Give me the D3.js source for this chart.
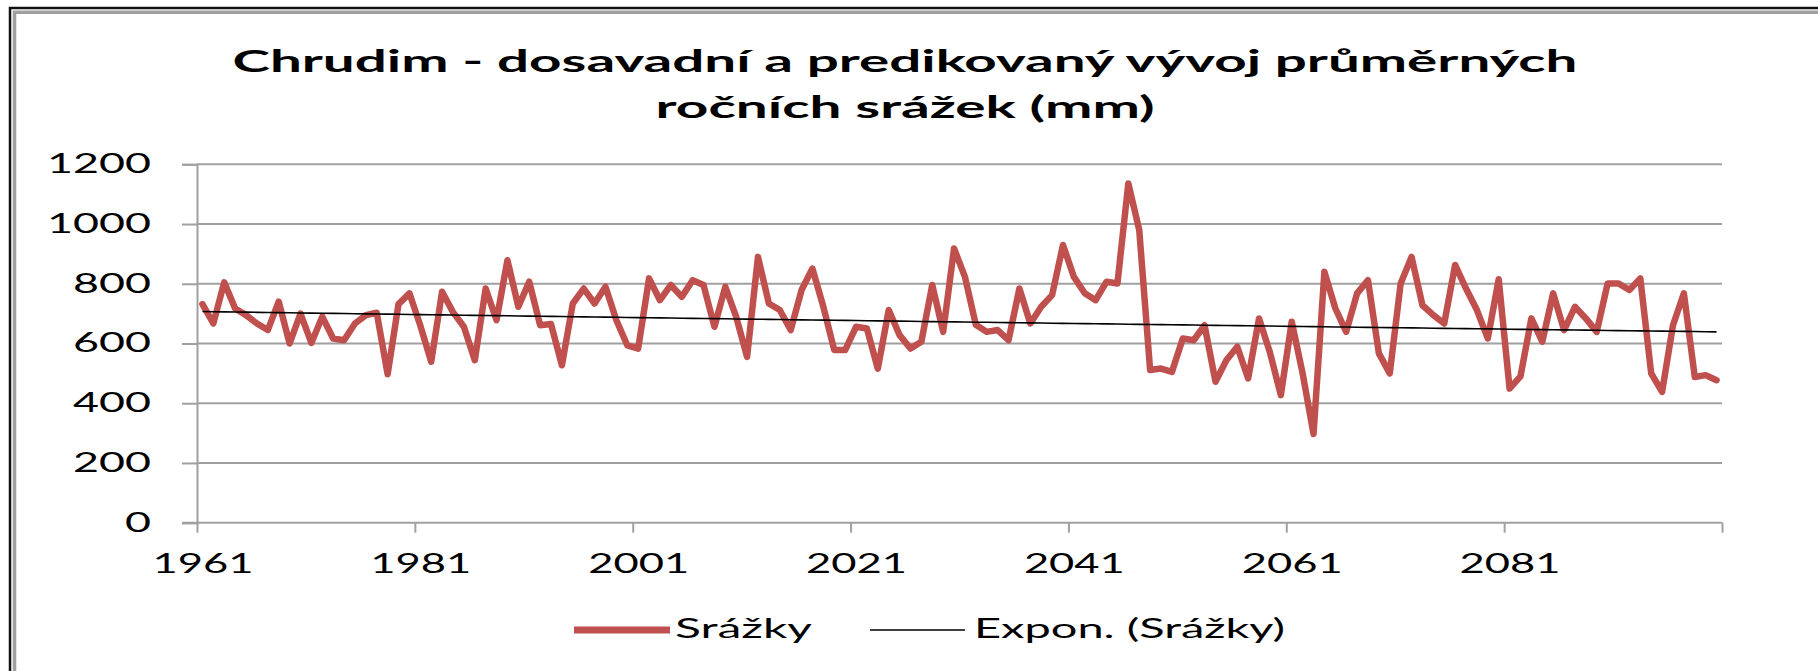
<!DOCTYPE html>
<html>
<head>
<meta charset="utf-8">
<script src="https://cdn.jsdelivr.net/npm/d3@7"></script>
<style>
  html, body { margin: 0; padding: 0; background: #fff; }
  svg { display: block; }
  text { font-family: Lato, "Open Sans", sans-serif; fill: #000; }
</style>
</head>
<body>
<svg id="chart" width="1818" height="671"></svg>
<script>
// ---- data ----
const startYear = 1961;
const years = d3.range(startYear, startYear + 140); // 1961..2100
const srazky = [
  732, 667, 805, 717, 695, 667, 645, 740, 600, 700, 602, 690, 617, 611, 667, 695, 703, 497, 732, 768, 660, 539, 773, 705,
  656, 544, 784, 678, 879, 723, 807, 661, 665, 527, 734, 784, 734, 790, 678, 594, 583, 818, 745, 796, 756, 812, 796, 656,
  790, 689, 555, 890, 734, 712, 645, 779, 851, 723, 578, 578, 656, 650, 516, 712, 628, 583, 606, 796, 639, 918, 823, 663,
  639, 645, 611, 784, 667, 723, 762, 930, 823, 768, 745, 807, 801, 1136, 980, 511, 516, 505, 617, 611, 661, 472, 544, 589,
  483, 684, 570, 427, 673, 500, 297, 840, 718, 639, 768, 812, 567, 500, 801, 890, 728, 695, 667, 863, 784, 712, 617, 815,
  449, 490, 684, 606, 768, 645, 723, 684, 639, 801, 801, 779, 818, 500, 438, 661, 768, 488, 494, 477
];
const yTicks = [0, 200, 400, 600, 800, 1000, 1200];
const xTickYears = [1961, 1981, 2001, 2021, 2041, 2061, 2081, 2101];
const xLabelYears = [1961, 1981, 2001, 2021, 2041, 2061, 2081];
const titleLines = ["Chrudim - dosavadní a predikovaný vývoj průměrných", "ročních srážek (mm)"];
const legendNames = ["Srážky", "Expon. (Srážky)"];

// ---- exponential trendline (least squares on ln y, as Excel does) ----
const n = srazky.length;
const xs = d3.range(1, n + 1);
const lny = srazky.map(v => Math.log(v));
const mx = d3.mean(xs), my = d3.mean(lny);
const b = d3.sum(xs, (x, i) => (x - mx) * (lny[i] - my)) / d3.sum(xs, x => (x - mx) * (x - mx));
const a = my - b * mx;
const trend = xs.map(x => Math.exp(a + b * x));

// ---- layout ----
const svg = d3.select("#chart");
const L = 197, R = 1722, T = 164.3, B = 522.7;

const x = d3.scaleLinear().domain([1961, 2101]).range([L, R]);
const y = d3.scaleLinear().domain([0, 1200]).range([B, T]);

// frame
svg.append("path").attr("d", `M10,671 V8 H1818`).attr("fill", "none").attr("stroke", "#111").attr("stroke-width", 2.5);
svg.append("path").attr("d", `M14.5,671 V12.3 H1818`).attr("fill", "none").attr("stroke", "#a0a0a0").attr("stroke-width", 3.5);

// title
const titleWidths = [1345, 499];
titleLines.forEach((t, i) => {
  svg.append("text")
    .attr("x", 905).attr("y", 72 + i * 46)
    .attr("text-anchor", "middle")
    .attr("font-size", 30).attr("font-weight", 700)
    .attr("textLength", titleWidths[i]).attr("lengthAdjust", "spacingAndGlyphs")
    .text(t);
});

// gridlines
svg.append("g").selectAll("line").data(yTicks.filter(d => d > 0)).join("line")
  .attr("x1", L).attr("x2", R)
  .attr("y1", d => y(d)).attr("y2", d => y(d))
  .attr("stroke", "#a0a0a0").attr("stroke-width", 2);

// y axis
const yAxis = svg.append("g").attr("transform", `translate(${L},0)`)
  .call(d3.axisLeft(y).tickValues(yTicks).tickSize(15).tickPadding(31).tickFormat(d3.format("d")));
yAxis.select(".domain").attr("stroke", "#a0a0a0").attr("stroke-width", 2);
yAxis.selectAll(".tick line").attr("stroke", "#a0a0a0").attr("stroke-width", 2);
yAxis.selectAll(".tick text")
  .attr("font-size", 26).attr("font-family", "Lato, sans-serif").attr("fill", "#000")
  .each(function(d) { const s = String(d); d3.select(this).attr("textLength", s.length * 26).attr("lengthAdjust", "spacingAndGlyphs"); });

// x axis ticks
const xAxis = svg.append("g").attr("transform", `translate(0,${B})`)
  .call(d3.axisBottom(x).tickValues(xTickYears).tickSize(10).tickFormat(""));
xAxis.select(".domain").attr("stroke", "#a0a0a0").attr("stroke-width", 2).attr("d", `M${L - 15},0H${R}`);
xAxis.selectAll(".tick line").attr("stroke", "#a0a0a0").attr("stroke-width", 2);

// x axis labels (centred on categories)
const xLab = svg.append("g").attr("transform", `translate(0,${B})`)
  .call(d3.axisBottom(x).tickValues(xLabelYears.map(v => v + 0.5)).tickSize(0).tickPadding(32).tickFormat(d => String(d - 0.5)));
xLab.select(".domain").remove();
xLab.selectAll(".tick text")
  .attr("font-size", 26).attr("font-family", "Lato, sans-serif").attr("fill", "#000")
  .attr("textLength", 101).attr("lengthAdjust", "spacingAndGlyphs");

// series line
const line = d3.line().x((d, i) => x(years[i] + 0.5)).y(d => y(d));
svg.append("path").datum(srazky)
  .attr("d", line)
  .attr("fill", "none").attr("stroke", "#c0504d").attr("stroke-width", 6.5)
  .attr("stroke-linejoin", "round").attr("stroke-linecap", "round");

// trendline
svg.append("path").datum(trend)
  .attr("d", line)
  .attr("fill", "none").attr("stroke", "#000").attr("stroke-width", 1.6);

// legend
const lg = svg.append("g");
lg.append("line").attr("x1", 574).attr("x2", 670).attr("y1", 630).attr("y2", 630)
  .attr("stroke", "#c0504d").attr("stroke-width", 7);
lg.append("text").attr("x", 675).attr("y", 638).attr("font-size", 26)
  .attr("textLength", 137).attr("lengthAdjust", "spacingAndGlyphs").text(legendNames[0]);
lg.append("line").attr("x1", 870).attr("x2", 965).attr("y1", 630).attr("y2", 630)
  .attr("stroke", "#000").attr("stroke-width", 1.6);
lg.append("text").attr("x", 974).attr("y", 638).attr("font-size", 26)
  .attr("textLength", 311).attr("lengthAdjust", "spacingAndGlyphs").text(legendNames[1]);
</script>
</body>
</html>
